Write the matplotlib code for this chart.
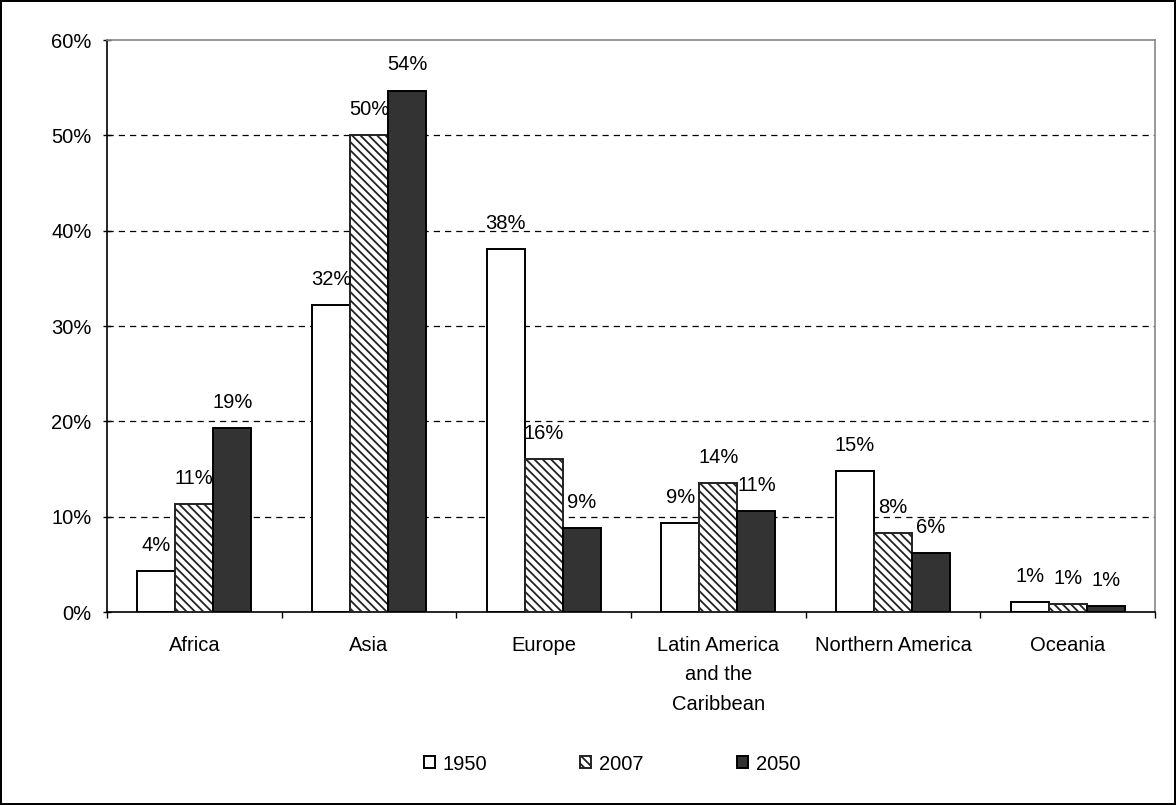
import matplotlib
matplotlib.use("Agg")
import matplotlib.pyplot as plt
import numpy as np

categories = ["Africa", "Asia", "Europe", "Latin America\nand the\nCaribbean", "Northern America", "Oceania"]
series_names = ["1950", "2007", "2050"]
v1950 = [4.3, 32.2, 38.1, 9.3, 14.8, 1.0]
v2007 = [11.3, 50.0, 16.0, 13.5, 8.3, 0.8]
v2050 = [19.3, 54.7, 8.8, 10.6, 6.2, 0.6]
labels1950 = ["4%", "32%", "38%", "9%", "15%", "1%"]
labels2007 = ["11%", "50%", "16%", "14%", "8%", "1%"]
labels2050 = ["19%", "54%", "9%", "11%", "6%", "1%"]
yticks = [0, 10, 20, 30, 40, 50, 60]

plt.rcParams['font.family'] = ['Liberation Sans', 'DejaVu Sans']
plt.rcParams['hatch.linewidth'] = 1.3
plt.rcParams['hatch.color'] = '#222222'

FS = 14.5
fig = plt.figure(figsize=(11.76, 8.05), dpi=100)
fig.patch.set_edgecolor('black')
fig.patch.set_linewidth(1.5)
ax = fig.add_axes([107/1176, 1-612/805, 1048/1176, 572/805])

x = np.arange(len(categories))
w = 0.218
styles = [dict(facecolor='white', edgecolor='black', hatch=None),
          dict(facecolor='white', edgecolor='#222222', hatch='\\\\\\\\'),
          dict(facecolor='#333333', edgecolor='black', hatch=None)]
data = [v1950, v2007, v2050]
labs = [labels1950, labels2007, labels2050]
for i, (vals, st, lb) in enumerate(zip(data, styles, labs)):
    bars = ax.bar(x + (i - 1) * w, vals, w, facecolor=st['facecolor'], edgecolor=st['edgecolor'],
                  hatch=st['hatch'], linewidth=1.4, zorder=3, label=series_names[i])
    for b, v, t in zip(bars, vals, lb):
        ax.annotate(t, (b.get_x() + b.get_width() / 2, v), xytext=(0, 18.5), textcoords='offset points',
                    ha='center', va='center', fontsize=FS, zorder=4)

ax.set_xlim(-0.5, len(categories) - 0.5)
ax.set_ylim(0, 60)
ax.set_yticks(yticks)
ax.set_yticklabels([f"{t}%" for t in yticks], fontsize=FS)
for t in yticks[1:-1]:
    ax.axhline(t, color='black', linestyle=(0, (5, 4)), linewidth=0.9, zorder=1)

ax.set_xticks(np.arange(-0.5, len(categories)), minor=False)
ax.set_xticklabels([])
ax.set_xticks(x, minor=True)
ax.set_xticklabels(categories, minor=True, fontsize=FS, linespacing=1.72, va='top')
ax.tick_params(axis='x', which='minor', length=0, pad=17)
ax.tick_params(axis='x', which='major', length=4.5, direction='out', width=1)
ax.tick_params(axis='y', length=6, direction='inout', width=1, pad=8)

ax.spines['left'].set_color('black')
ax.spines['bottom'].set_color('black')
ax.spines['top'].set_color('#888888')
ax.spines['right'].set_color('#888888')
for s in ax.spines.values():
    s.set_linewidth(1.2)

handles, lbls = ax.get_legend_handles_labels()
leg = fig.legend(handles, lbls, loc='center', bbox_to_anchor=(612/1176, 1-764/805), ncol=3, frameon=False,
                 fontsize=FS, handlelength=0.55, handleheight=0.55, columnspacing=4.6, handletextpad=0.4)

fig.savefig("out.png", dpi=100, edgecolor=fig.get_edgecolor())
